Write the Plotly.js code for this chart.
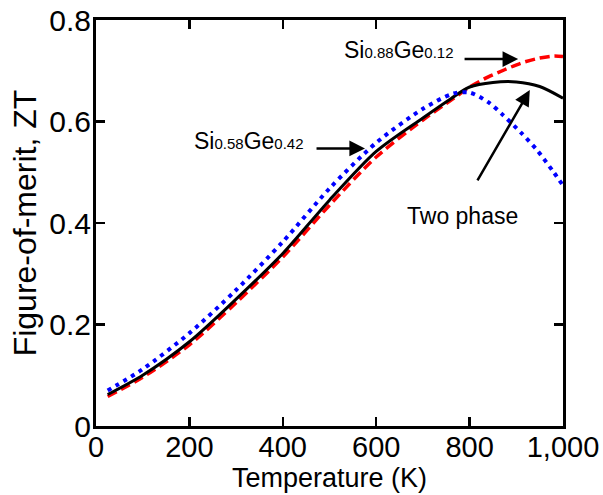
<!DOCTYPE html>
<html>
<head>
<meta charset="utf-8">
<script src="https://cdn.plot.ly/plotly-3.0.1.min.js"></script>
<style>html,body{margin:0;padding:0;background:#fff;}#chart{width:603px;height:495px;}</style>
</head>
<body>
<div id="chart"></div>
<script>
// Temperature (K) and figure-of-merit ZT for each series
const tempTwoPhase = [25, 100, 200, 300, 400, 500, 600, 700, 760, 800, 850, 900, 950, 1000];
const ztTwoPhase   = [0.062, 0.100, 0.166, 0.250, 0.340, 0.445, 0.541, 0.607, 0.645, 0.668, 0.677, 0.678, 0.669, 0.646];

const tempSi88 = [25, 100, 200, 300, 400, 500, 600, 700, 765, 800, 840, 875, 910, 945, 980, 1000];
const ztSi88   = [0.058, 0.096, 0.160, 0.243, 0.333, 0.435, 0.530, 0.603, 0.645, 0.668, 0.688, 0.702, 0.715, 0.724, 0.729, 0.728];

const tempSi58 = [25, 100, 200, 300, 400, 500, 600, 700, 765, 800, 840, 870, 910, 945, 980, 1000];
const ztSi58   = [0.070, 0.112, 0.183, 0.268, 0.363, 0.468, 0.558, 0.625, 0.655, 0.657, 0.638, 0.614, 0.578, 0.543, 0.500, 0.474];

const xTickVals = [0, 200, 400, 600, 800, 1000];
const xTickText = ['0', '200', '400', '600', '800', '1,000'];
const yTickVals = [0, 0.2, 0.4, 0.6, 0.8];
const yTickText = ['0', '0.2', '0.4', '0.6', '0.8'];

const FONT = 'Arial, "Liberation Sans", Helvetica, sans-serif';
const sub = s => '<span style="font-size:15px">' + s + '</span>';

const traces = [
  {x: tempSi88, y: ztSi88, mode: 'lines', name: 'Si0.88Ge0.12',
   line: {color: '#ff0000', width: 3.5, dash: '10px,5px', shape: 'spline', smoothing: 0.8}},
  {x: tempTwoPhase, y: ztTwoPhase, mode: 'lines', name: 'Two phase',
   line: {color: '#000000', width: 3, shape: 'spline', smoothing: 0.8}},
  {x: tempSi58, y: ztSi58, mode: 'lines', name: 'Si0.58Ge0.42',
   line: {color: '#0000ff', width: 4, dash: '4px,5px', shape: 'spline', smoothing: 0.8}}
];

const annFont = {family: FONT, size: 23, color: '#000'};
const arrow = (x, y, ax, ay) => ({
  x: x, y: y, ax: ax, ay: ay, xref: 'x', yref: 'y', axref: 'x', ayref: 'y',
  text: '', showarrow: true, arrowhead: 2, arrowsize: 1.25, arrowwidth: 2.5, arrowcolor: '#000'
});

const layout = {
  width: 603, height: 495,
  margin: {l: 96, r: 40, t: 20, b: 69},
  paper_bgcolor: '#fff', plot_bgcolor: '#fff',
  showlegend: false,
  font: {family: FONT, color: '#000'},
  xaxis: {
    range: [0, 1000], tickvals: xTickVals, ticktext: xTickText,
    ticks: 'inside', ticklen: 9, tickwidth: 2.5, tickcolor: '#000',
    showline: true, linewidth: 3, linecolor: '#000', mirror: 'ticks',
    showgrid: false, zeroline: false, ticklabelstandoff: -7,
    tickfont: {family: FONT, size: 29, color: '#000'},
    title: {text: 'Temperature (K)', font: {family: FONT, size: 27, color: '#000'}, standoff: 0}
  },
  yaxis: {
    range: [0, 0.8], tickvals: yTickVals, ticktext: yTickText,
    ticks: 'inside', ticklen: 9, tickwidth: 2.5, tickcolor: '#000',
    showline: true, linewidth: 3, linecolor: '#000', mirror: 'ticks',
    showgrid: false, zeroline: false, ticklabelstandoff: -4,
    tickfont: {family: FONT, size: 30, color: '#000'},
    title: {text: 'Figure-of-merit, ZT', font: {family: FONT, size: 32, color: '#000'}, standoff: 4}
  },
  annotations: [
    {x: 648, y: 0.74, xref: 'x', yref: 'y', text: 'Si' + sub('0.88') + 'Ge' + sub('0.12'),
     showarrow: false, font: annFont, xanchor: 'center', yanchor: 'middle'},
    {x: 327, y: 0.562, xref: 'x', yref: 'y', text: 'Si' + sub('0.58') + 'Ge' + sub('0.42'),
     showarrow: false, font: annFont, xanchor: 'center', yanchor: 'middle'},
    {x: 785, y: 0.413, xref: 'x', yref: 'y', text: 'Two phase',
     showarrow: false, font: annFont, xanchor: 'center', yanchor: 'middle'},
    arrow(904, 0.723, 786, 0.723),
    arrow(576, 0.547, 469, 0.547),
    arrow(929, 0.662, 815, 0.481)
  ]
};

Plotly.newPlot('chart', traces, layout, {displayModeBar: false, staticPlot: true});
</script>
</body>
</html>
